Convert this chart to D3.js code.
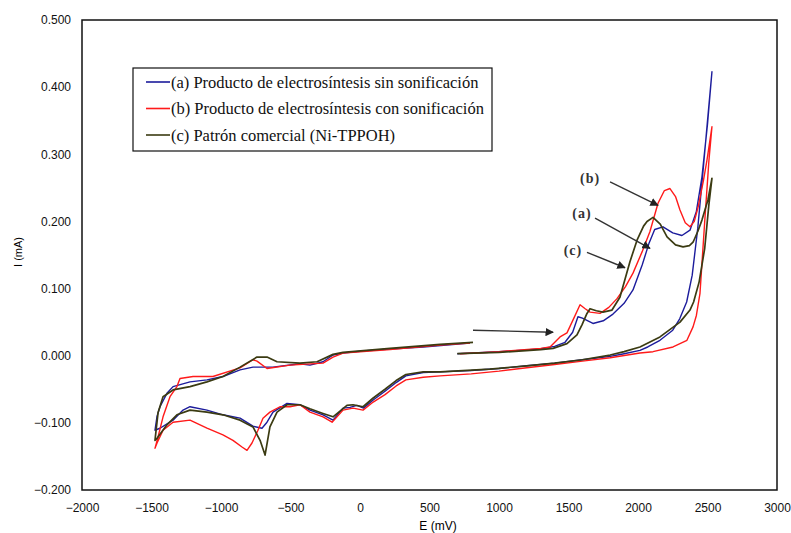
<html>
<head>
<meta charset="utf-8">
<title>Voltamperometría cíclica</title>
<script src="https://d3js.org/d3.v7.min.js"></script>
<style>
  body { margin: 0; background: #fff; }
  .tick text { font-family: "Liberation Sans", Arial, sans-serif; font-size: 12px; fill: #111; }
  .domain { display: none; }
</style>
</head>
<body>
<svg width="791" height="533"></svg>
<script>
// (a) sin sonificación
var eA = [700,1000,1295,1400,1475,1530,1568,1600,1676,1750,1820,1900,1964,2030,2080,2120,2180,2250,2316,2374,2420,2460,2500,2532,
  2500,2470,2430,2390,2350,2300,2250,2158,2070,2014,1900,1800,1600,1400,1200,1000,800,576,455,330,260,180,95,25,-22,-72,-122,-194,-266,-360,-432,-525,-626,-669,-705,-770,-863,-986,-1101,-1223,-1273,-1345,-1439,-1475,
  -1460,-1439,-1389,-1345,-1223,-1101,-986,-863,-770,-626,-432,-360,-266,-194,-122,22,216,455,791];
var iA = [0.003,0.006,0.010,0.014,0.020,0.035,0.058,0.056,0.048,0.052,0.062,0.078,0.098,0.135,0.168,0.188,0.192,0.183,0.179,0.187,0.215,0.266,0.345,0.423,
  0.350,0.280,0.190,0.120,0.080,0.055,0.038,0.023,0.013,0.008,0.003,-0.001,-0.006,-0.011,-0.015,-0.019,-0.022,-0.024,-0.025,-0.030,-0.040,-0.053,-0.066,-0.078,-0.074,-0.077,-0.078,-0.096,-0.088,-0.081,-0.073,-0.071,-0.084,-0.099,-0.108,-0.105,-0.093,-0.088,-0.081,-0.076,-0.081,-0.096,-0.108,-0.111,
  -0.090,-0.076,-0.056,-0.046,-0.039,-0.036,-0.031,-0.021,-0.017,-0.017,-0.012,-0.014,-0.009,0.001,0.004,0.007,0.010,0.013,0.019];

// (b) con sonificación
var eB = [720,1000,1300,1367,1439,1489,1532,1583,1620,1655,1727,1790,1849,1910,1964,2030,2086,2144,2190,2230,2270,2302,2340,2374,2405,2432,2470,2496,2532,
  2510,2480,2446,2420,2396,2352,2252,2108,2014,1800,1600,1400,1200,1000,800,576,455,330,260,180,95,22,-50,-122,-201,-266,-360,-432,-504,-576,-648,-698,-734,-777,-813,-849,-914,-986,-1101,-1223,-1345,-1417,-1460,-1475,
  -1453,-1417,-1367,-1317,-1295,-1201,-1058,-863,-770,-741,-669,-504,-266,-194,-122,216,576,791];
var iB = [0.003,0.006,0.011,0.013,0.028,0.034,0.053,0.076,0.070,0.065,0.063,0.072,0.085,0.103,0.123,0.155,0.185,0.227,0.246,0.249,0.237,0.217,0.198,0.192,0.200,0.221,0.260,0.291,0.341,
  0.290,0.200,0.093,0.060,0.043,0.023,0.013,0.006,0.004,-0.003,-0.008,-0.013,-0.018,-0.023,-0.027,-0.030,-0.032,-0.036,-0.045,-0.058,-0.069,-0.081,-0.078,-0.081,-0.099,-0.091,-0.084,-0.073,-0.076,-0.076,-0.084,-0.093,-0.111,-0.130,-0.141,-0.136,-0.126,-0.118,-0.108,-0.096,-0.099,-0.111,-0.130,-0.138,
  -0.121,-0.091,-0.061,-0.046,-0.034,-0.031,-0.031,-0.018,-0.006,-0.008,-0.019,-0.014,-0.011,-0.002,0.004,0.009,0.016,0.019];

// (c) patrón comercial
var eC = [700,1000,1300,1389,1489,1561,1597,1633,1655,1700,1748,1813,1870,1942,1993,2040,2065,2108,2160,2209,2270,2324,2370,2396,2430,2460,2503,2532,
  2510,2480,2440,2400,2374,2302,2158,2014,1900,1800,1600,1400,1200,935,576,455,330,260,180,95,22,-50,-94,-194,-266,-360,-432,-525,-597,-648,-683,-719,-770,-863,-986,-1101,-1223,-1317,-1389,-1460,-1475,
  -1453,-1417,-1345,-1223,-1101,-986,-863,-741,-669,-597,-432,-309,-194,-122,216,576,813];
var iC = [0.003,0.005,0.009,0.011,0.018,0.031,0.046,0.063,0.070,0.067,0.065,0.068,0.087,0.140,0.172,0.193,0.200,0.206,0.196,0.177,0.165,0.162,0.164,0.169,0.185,0.202,0.232,0.264,
  0.225,0.160,0.110,0.080,0.068,0.050,0.028,0.013,0.006,0.001,-0.006,-0.011,-0.015,-0.020,-0.024,-0.024,-0.028,-0.037,-0.050,-0.063,-0.076,-0.073,-0.074,-0.091,-0.086,-0.079,-0.073,-0.073,-0.084,-0.106,-0.148,-0.126,-0.106,-0.096,-0.088,-0.084,-0.081,-0.088,-0.103,-0.123,-0.126,
  -0.085,-0.061,-0.051,-0.046,-0.039,-0.031,-0.017,-0.002,-0.002,-0.009,-0.011,-0.009,0.002,0.005,0.011,0.017,0.020];

var xTicks = [-2000,-1500,-1000,-500,0,500,1000,1500,2000,2500,3000];
var yTicks = [-0.2,-0.1,0,0.1,0.2,0.3,0.4,0.5];
var labels = ["(a) Producto de electrosíntesis sin sonificación",
              "(b) Producto de electrosíntesis con sonificación",
              "(c) Patrón comercial (Ni-TPPOH)"];
var colors = ["#1c1c9c","#ff1a1a","#3b3b12"];

var margin = {left: 82, top: 20, right: 14, bottom: 43};
var W = 791 - margin.left - margin.right, H = 533 - margin.top - margin.bottom;
var x = d3.scaleLinear().domain([-2000,3000]).range([0,W]);
var y = d3.scaleLinear().domain([-0.2,0.5]).range([H,0]);

var svg = d3.select("svg");
var g = svg.append("g").attr("transform","translate("+margin.left+","+margin.top+")");

g.append("g").attr("transform","translate(0,"+H+")")
  .call(d3.axisBottom(x).tickValues(xTicks).tickSize(0).tickPadding(13).tickFormat(d3.format("d")));
g.append("g")
  .call(d3.axisLeft(y).tickValues(yTicks).tickSize(0).tickPadding(11).tickFormat(d3.format(".3f")));

g.append("rect").attr("width",W).attr("height",H)
  .attr("fill","none").attr("stroke","#111").attr("stroke-width",1.5);

var line = d3.line().x(function(d){return x(d[0]);}).y(function(d){return y(d[1]);});
var series = [[eA,iA],[eB,iB],[eC,iC]];
series.forEach(function(s,k){
  var pts = s[0].map(function(e,i){return [e, s[1][i]];});
  g.append("path").datum(pts).attr("d",line)
    .attr("fill","none").attr("stroke",colors[k])
    .attr("stroke-width", k==2 ? 1.7 : 1.4).attr("stroke-linejoin","round");
});

// arrows and labels
svg.append("defs").append("marker").attr("id","ah")
  .attr("viewBox","0 0 10 10").attr("refX",9).attr("refY",5)
  .attr("markerWidth",6).attr("markerHeight",6).attr("orient","auto")
  .append("path").attr("d","M0,0 L10,5 L0,10 z").attr("fill","#222");

var arrows = [[813,0.038,1389,0.035],[1799,0.259,2144,0.224],[1691,0.205,2086,0.160],[1633,0.154,1906,0.131]];
arrows.forEach(function(a){
  g.append("line").attr("x1",x(a[0])).attr("y1",y(a[1])).attr("x2",x(a[2])).attr("y2",y(a[3]))
    .attr("stroke","#333").attr("stroke-width",1.4).attr("marker-end","url(#ah)");
});
var notes = [["(b)",1655,0.265],["(a)",1597,0.212],["(c)",1532,0.157]];
notes.forEach(function(n){
  g.append("text").attr("x",x(n[1])).attr("y",y(n[2])).attr("dy","0.35em")
    .attr("text-anchor","middle").style("font-family","'Liberation Serif', serif")
    .style("font-size","14px").style("font-weight","bold").style("letter-spacing","1px")
    .attr("fill","#333").text(n[0]);
});

// legend
var lg = svg.append("g");
lg.append("rect").attr("x",133).attr("y",68).attr("width",359).attr("height",83)
  .attr("fill","#fff").attr("stroke","#111").attr("stroke-width",1.2);
labels.forEach(function(t,i){
  var yy = 82 + i*26.5;
  lg.append("line").attr("x1",146).attr("x2",170).attr("y1",yy).attr("y2",yy)
    .attr("stroke",colors[i]).attr("stroke-width",1.6);
  lg.append("text").attr("x",171).attr("y",yy).attr("dy","0.35em")
    .style("font-family","'Liberation Serif', serif").style("font-size","16.5px")
    .attr("fill","#111").text(t);
});

// axis titles
svg.append("text").attr("x",438).attr("y",530).attr("text-anchor","middle")
  .style("font-family","'Liberation Sans', Arial, sans-serif").style("font-size","12px").text("E (mV)");
svg.append("text").attr("transform","translate(22,252) rotate(-90)").attr("text-anchor","middle")
  .style("font-family","'Liberation Sans', Arial, sans-serif").style("font-size","11px").text("I (mA)");
</script>
</body>
</html>
